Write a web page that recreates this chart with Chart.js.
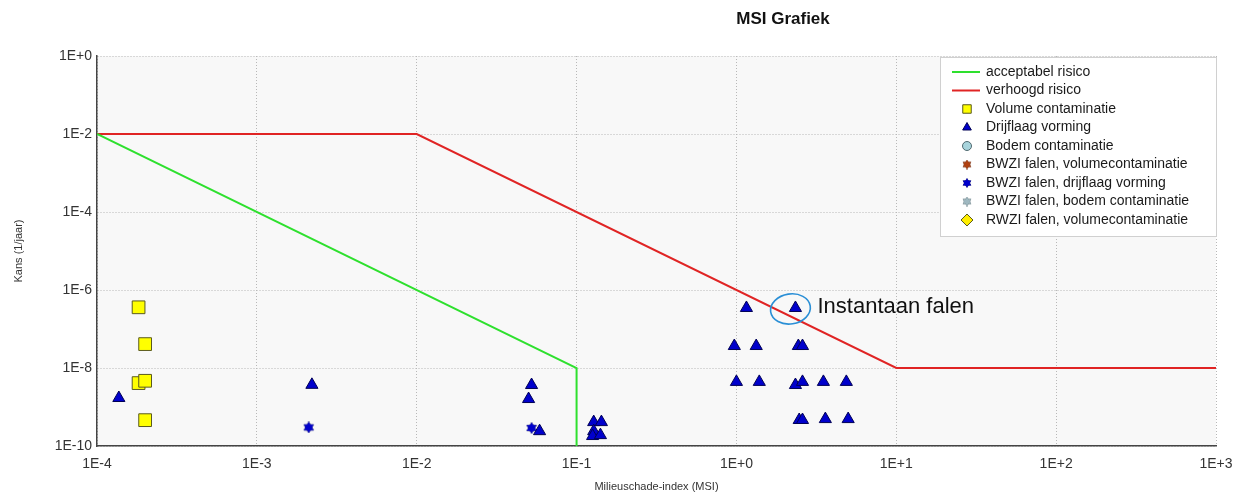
<!DOCTYPE html>
<html>
<head>
<meta charset="utf-8">
<title>MSI Grafiek</title>
<script src="https://cdn.jsdelivr.net/npm/chart.js@4/dist/chart.umd.min.js"></script>
<style>
  html, body { margin: 0; padding: 0; background: #ffffff; }
  #wrap { width: 1246px; height: 494px; }
</style>
</head>
<body>
<div id="wrap"><canvas id="msiChart" width="1246" height="494"></canvas></div>
<script>
// tick values
var xTicks = [1e-4, 1e-3, 1e-2, 1e-1, 1, 10, 100, 1000];
var yTicks = [1, 1e-2, 1e-4, 1e-6, 1e-8, 1e-10];

// risk lines
var acceptabelX = [1e-4, 1e-1, 1e-1];
var acceptabelY = [1e-2, 1e-8, 1e-10];
var verhoogdX = [1e-4, 1e-2, 10, 1000];
var verhoogdY = [1e-2, 1e-2, 1e-8, 1e-8];

// scenarios
var volumeX = [1.82e-4, 2.0e-4, 1.82e-4, 2.0e-4, 2.0e-4];
var volumeY = [3.6e-7, 4.1e-8, 4.1e-9, 4.7e-9, 4.6e-10];

var drijflaagX = [1.37e-4, 2.21e-3, 0.0523, 0.0501, 0.0587, 0.128, 0.143, 0.128, 0.126, 0.141,
                  1.155, 2.34, 0.97, 1.33, 2.44, 2.59, 1.0, 1.39, 2.34, 2.59, 3.5, 4.87, 2.47, 2.59, 3.6, 5.0];
var drijflaagY = [1.7e-9, 3.7e-9, 3.66e-9, 1.6e-9, 2.4e-10, 4.1e-10, 4.1e-10, 2.4e-10, 1.8e-10, 1.9e-10,
                  3.46e-7, 3.46e-7, 3.66e-8, 3.66e-8, 3.66e-8, 3.66e-8, 4.4e-9, 4.4e-9, 3.66e-9, 4.4e-9, 4.4e-9, 4.4e-9, 4.64e-10, 4.64e-10, 4.9e-10, 4.9e-10];

var bodemX = [];
var bodemY = [];
var bwziVolumeX = [];
var bwziVolumeY = [];
var bwziDrijflaagX = [2.11e-3, 0.0523];
var bwziDrijflaagY = [3.0e-10, 2.9e-10];
var bwziBodemX = [];
var bwziBodemY = [];
var rwziVolumeX = [];
var rwziVolumeY = [];

// annotated point
var instantaanX = 2.34;
var instantaanY = 3.46e-7;
var instantaanText = 'Instantaan falen';

function pts(xs, ys) {
    var out = [];
    for (var i = 0; i < xs.length; i++) {
        out.push({x: xs[i], y: ys[i]});
    }
    return out;
}

function makeStar(fill, stroke, size) {
    var c = document.createElement('canvas');
    c.width = size;
    c.height = size;
    var g = c.getContext('2d');
    var cx = size / 2, cy = size / 2, r = size / 2 - 0.5;
    g.fillStyle = fill;
    g.strokeStyle = stroke;
    g.lineWidth = 0.8;
    function tri(a0) {
        g.beginPath();
        for (var i = 0; i < 3; i++) {
            var a = a0 + i * 2 * Math.PI / 3 - Math.PI / 2;
            var px = cx + Math.cos(a) * r, py = cy + Math.sin(a) * r;
            if (i === 0) g.moveTo(px, py); else g.lineTo(px, py);
        }
        g.closePath();
    }
    tri(0); g.stroke();
    tri(Math.PI); g.stroke();
    tri(0); g.fill();
    tri(Math.PI); g.fill();
    return c;
}

var starBrown = makeStar('#b04010', '#602000', 12);
var starBlue = makeStar('#0000cc', '#000066', 12);
var starGrey = makeStar('#9fb8c0', '#50686e', 12);
var starBrownSmall = makeStar('#b04010', '#602000', 10);
var starBlueSmall = makeStar('#0000cc', '#000066', 10);
var starGreySmall = makeStar('#9fb8c0', '#50686e', 10);

function expLabel(v) {
    var e = Math.round(Math.log10(v));
    return '1E' + (e >= 0 ? '+' : '') + e;
}

var plotBackground = {
    id: 'plotBackground',
    beforeDraw: function (chart) {
        var a = chart.chartArea, ctx = chart.ctx;
        ctx.save();
        ctx.fillStyle = '#f8f8f8';
        ctx.fillRect(a.left, a.top, a.right - a.left, a.bottom - a.top);
        ctx.restore();
    }
};

var extras = {
    id: 'extras',
    afterDraw: function (chart) {
        var ctx = chart.ctx;
        var a = chart.chartArea;
        ctx.save();

        // title
        ctx.fillStyle = '#111';
        ctx.font = 'bold 17px "Liberation Sans", Arial, sans-serif';
        ctx.textAlign = 'center';
        ctx.textBaseline = 'middle';
        ctx.fillText('MSI Grafiek', 783, 19);

        // annotation
        var px = chart.scales.x.getPixelForValue(instantaanX);
        var py = chart.scales.y.getPixelForValue(instantaanY);
        ctx.strokeStyle = '#2a8fd6';
        ctx.lineWidth = 1.6;
        ctx.beginPath();
        ctx.ellipse(px - 5, py + 1, 20, 15, -0.15, 0, Math.PI * 2);
        ctx.stroke();
        ctx.fillStyle = '#111';
        ctx.font = '22px "Liberation Sans", Arial, sans-serif';
        ctx.textAlign = 'left';
        ctx.fillText(instantaanText, px + 22, py - 1);

        // legend box
        var bx = 940, by = 57, bw = a.right - 940, bh = 179;
        ctx.fillStyle = '#ffffff';
        ctx.fillRect(bx, by, bw, bh);
        ctx.strokeStyle = '#d0d0d0';
        ctx.lineWidth = 1;
        ctx.strokeRect(bx + 0.5, by + 0.5, bw, bh);

        ctx.font = '14px "Liberation Sans", Arial, sans-serif';
        ctx.textBaseline = 'middle';
        chart.data.datasets.forEach(function (ds, i) {
            var y = 72 + i * 18.5;
            if (ds.showLine) {
                ctx.strokeStyle = ds.borderColor;
                ctx.lineWidth = 2;
                ctx.beginPath();
                ctx.moveTo(952, y);
                ctx.lineTo(980, y);
                ctx.stroke();
            } else if (ds.legendImage) {
                var im = ds.legendImage;
                ctx.drawImage(im, 967 - im.width / 2, y - im.height / 2);
            } else {
                ctx.fillStyle = ds.backgroundColor;
                ctx.strokeStyle = ds.borderColor;
                ctx.lineWidth = 1;
                Chart.helpers.drawPoint(ctx, {
                    pointStyle: ds.pointStyle,
                    radius: ds.legendRadius,
                    rotation: ds.rotation || 0,
                    borderWidth: 1
                }, 967, y);
            }
            ctx.fillStyle = '#1a1a1a';
            ctx.textAlign = 'left';
            ctx.fillText(ds.label, 986, y);
        });
        ctx.restore();
    }
};

var datasets = [
    {
        label: 'acceptabel risico',
        data: pts(acceptabelX, acceptabelY),
        showLine: true,
        borderColor: '#2ee02e',
        backgroundColor: '#2ee02e',
        borderWidth: 2,
        pointRadius: 0,
        order: 2
    },
    {
        label: 'verhoogd risico',
        data: pts(verhoogdX, verhoogdY),
        showLine: true,
        borderColor: '#e02424',
        backgroundColor: '#e02424',
        borderWidth: 2,
        pointRadius: 0,
        order: 2
    },
    {
        label: 'Volume contaminatie',
        data: pts(volumeX, volumeY),
        pointStyle: 'rect',
        pointRadius: 9,
        legendRadius: 6,
        backgroundColor: '#ffff00',
        borderColor: '#5a5a1e',
        borderWidth: 1,
        order: 1
    },
    {
        label: 'Drijflaag vorming',
        data: pts(drijflaagX, drijflaagY),
        pointStyle: 'triangle',
        pointRadius: 7,
        legendRadius: 5,
        backgroundColor: '#0000cc',
        borderColor: '#000055',
        borderWidth: 1,
        order: 1
    },
    {
        label: 'Bodem contaminatie',
        data: pts(bodemX, bodemY),
        pointStyle: 'circle',
        pointRadius: 6,
        legendRadius: 4.5,
        backgroundColor: '#a8d4dc',
        borderColor: '#506a70',
        borderWidth: 1,
        order: 1
    },
    {
        label: 'BWZI falen, volumecontaminatie',
        data: pts(bwziVolumeX, bwziVolumeY),
        pointStyle: starBrown,
        legendImage: starBrownSmall,
        backgroundColor: '#b04010',
        borderColor: '#602000',
        order: 1
    },
    {
        label: 'BWZI falen, drijflaag vorming',
        data: pts(bwziDrijflaagX, bwziDrijflaagY),
        pointStyle: starBlue,
        legendImage: starBlueSmall,
        backgroundColor: '#0000cc',
        borderColor: '#000066',
        order: 1
    },
    {
        label: 'BWZI falen, bodem contaminatie',
        data: pts(bwziBodemX, bwziBodemY),
        pointStyle: starGrey,
        legendImage: starGreySmall,
        backgroundColor: '#9fb8c0',
        borderColor: '#50686e',
        order: 1
    },
    {
        label: 'RWZI falen, volumecontaminatie',
        data: pts(rwziVolumeX, rwziVolumeY),
        pointStyle: 'rectRot',
        pointRadius: 7,
        legendRadius: 6,
        backgroundColor: '#ffee00',
        borderColor: '#5a5a1e',
        borderWidth: 1,
        order: 1
    }
];

var tickFont = {family: '"Liberation Sans", Arial, sans-serif', size: 14};
var titleFont = {family: '"Liberation Sans", Arial, sans-serif', size: 11};

new Chart(document.getElementById('msiChart'), {
    type: 'scatter',
    data: {datasets: datasets},
    plugins: [plotBackground, extras],
    options: {
        responsive: false,
        animation: false,
        layout: {padding: {top: 56, right: 30, left: 0, bottom: 0}},
        plugins: {
            legend: {display: false},
            tooltip: {enabled: false},
            title: {display: false}
        },
        scales: {
            x: {
                type: 'logarithmic',
                min: 1e-4,
                max: 1000,
                afterBuildTicks: function (scale) {
                    scale.ticks = xTicks.map(function (v) { return {value: v}; });
                },
                afterFit: function (scale) { scale.height = 48; },
                ticks: {
                    autoSkip: false,
                    maxRotation: 0,
                    padding: 10,
                    color: '#333',
                    font: tickFont,
                    callback: function (v) { return expLabel(v); }
                },
                grid: {color: '#b8b8b8', drawTicks: false},
                border: {display: true, color: '#444', width: 1.5, dash: [1, 2]},
                title: {display: true, text: 'Milieuschade-index (MSI)', color: '#333', font: titleFont, padding: 0}
            },
            y: {
                type: 'logarithmic',
                min: 1e-10,
                max: 1,
                afterBuildTicks: function (scale) {
                    scale.ticks = yTicks.map(function (v) { return {value: v}; });
                },
                afterFit: function (scale) { scale.width = 97; },
                ticks: {
                    autoSkip: false,
                    padding: 5,
                    color: '#333',
                    font: tickFont,
                    callback: function (v) { return expLabel(v); }
                },
                grid: {color: '#b8b8b8', drawTicks: false},
                border: {display: true, color: '#444', width: 1.5, dash: [1, 2]},
                title: {display: true, text: 'Kans (1/jaar)', color: '#333', font: titleFont, padding: {top: 12, bottom: 0}}
            }
        }
    }
});
</script>
</body>
</html>
